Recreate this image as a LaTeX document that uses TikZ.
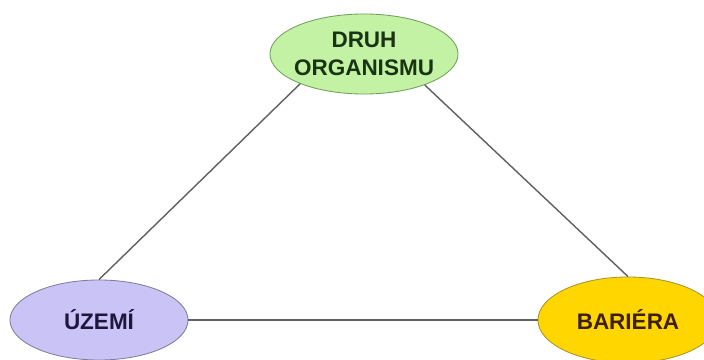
\documentclass[tikz,border=0pt]{standalone}
\usepackage{fontspec}
\setmainfont{Liberation Sans}
\usetikzlibrary{shapes.geometric}

\definecolor{druhFill}{RGB}{196,242,164}
\definecolor{druhDraw}{RGB}{112,160,92}
\definecolor{druhText}{RGB}{24,52,20}
\definecolor{uzemiFill}{RGB}{202,196,246}
\definecolor{uzemiDraw}{RGB}{128,126,150}
\definecolor{uzemiText}{RGB}{30,22,62}
\definecolor{barieraFill}{RGB}{255,214,0}
\definecolor{barieraDraw}{RGB}{168,148,40}
\definecolor{barieraText}{RGB}{62,32,10}
\definecolor{linkGray}{RGB}{96,96,96}

\begin{document}
\begin{tikzpicture}[%
    x=0.025cm, y=-0.025cm,
    concept/.style={%
        draw,
        ellipse,
        line width=0.6pt,
        inner sep=0pt,
        inner xsep=-3pt,
        align=center,
        font=\fontsize{16}{20}\selectfont\bfseries
    },
    druh/.style={%
        concept,
        fill=druhFill,
        draw=druhDraw,
        text=druhText,
        minimum width=4.7cm,
        minimum height=2cm
    },
    uzemi/.style={%
        concept,
        fill=uzemiFill,
        draw=uzemiDraw,
        text=uzemiText,
        minimum width=4.45cm,
        minimum height=2cm
    },
    bariera/.style={%
        concept,
        fill=barieraFill,
        draw=barieraDraw,
        text=barieraText,
        minimum width=4.5cm,
        minimum height=2.15cm
    },
    link/.style={%
        draw=linkGray,
        line width=1pt
    }
]
\useasboundingbox (0,0) rectangle (704,360);
\clip (0,0) rectangle (704,360);

% Concepts
    \node[druh] (druh) at (364,54) {DRUH\\ORGANISMU};
    \node[uzemi] (uzemi) at (99,320) {ÚZEMÍ};
    \node[bariera] (bariera) at (628,320) {BARIÉRA};

% Links
\draw[link] (druh.205) -- (uzemi.north);
\draw[link] (druh.333) -- (bariera.north);
\draw[link] (uzemi.east) -- (bariera.west);

\end{tikzpicture}
\end{document}
